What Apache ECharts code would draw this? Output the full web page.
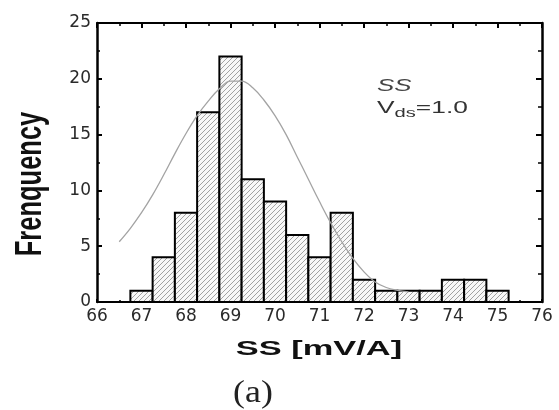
<!DOCTYPE html>
<html>
<head>
<meta charset="utf-8">
<script src="https://cdn.jsdelivr.net/npm/echarts@6/dist/echarts.min.js"></script>
<style>
html,body{margin:0;padding:0;background:#fff;}
#chart{width:559px;height:410px;}
</style>
</head>
<body>
<div id="chart"></div>
<script>
// ---- data ----
var binCenters = [67.0, 67.5, 68.0, 68.5, 69.0, 69.5, 70.0, 70.5, 71.0, 71.5, 72.0, 72.5, 73.0, 73.5, 74.0, 74.5, 75.0];
var binCounts  = [1, 4, 8, 17, 22, 11, 9, 6, 4, 8, 2, 1, 1, 1, 2, 2, 1];
var binWidth = 0.5;
var curveX = [66.5, 66.75, 67.0, 67.25, 67.5, 67.75, 68.0, 68.25, 68.5, 68.75, 69.0, 69.25, 69.5, 69.75, 70.0, 70.25, 70.5, 70.75, 71.0, 71.25, 71.5, 71.75, 72.0, 72.25, 72.5, 72.75, 73.0];
var curveY = [5.4, 6.6, 8.0, 9.6, 11.4, 13.3, 15.1, 16.7, 18.0, 19.1, 19.8, 19.8, 19.2, 18.1, 16.7, 15.0, 13.0, 11.0, 9.0, 7.1, 5.4, 3.9, 2.7, 1.8, 1.3, 1.05, 0.9];
var xTicks = {min: 66, max: 76, step: 1};
var yTicks = {min: 0, max: 25, step: 5};
var xTitle = 'SS [mV/A]';
var yTitle = 'Frenquency';
var noteLine1 = 'SS';
var panelLabel = '(a)';

// ---- hatch pattern ----
var tile = document.createElement('canvas');
tile.width = 5; tile.height = 5;
var g = tile.getContext('2d');
g.fillStyle = '#f8f8f8';
g.fillRect(0, 0, 5, 5);
g.strokeStyle = '#a2a2a2';
g.lineWidth = 1;
g.beginPath();
g.moveTo(-1, 6); g.lineTo(6, -1);
g.moveTo(-1, 1); g.lineTo(1, -1);
g.moveTo(4, 6); g.lineTo(6, 4);
g.stroke();
var hatch = {image: tile, repeat: 'repeat'};

var barData = binCenters.map(function (c, i) { return [c, binCounts[i]]; });
var curveData = curveX.map(function (x, i) { return [x, curveY[i]]; });

var labelFont = {fontFamily: 'DejaVu Sans', fontSize: 17, color: '#2a2a2a'};

function xAxisCfg(pos, showLabel, tickLen, minorLen) {
  return {
    type: 'value', position: pos, min: xTicks.min, max: xTicks.max, interval: xTicks.step,
    axisLine: {show: true, onZero: false, lineStyle: {color: '#000', width: 2}},
    axisTick: {show: true, inside: true, length: tickLen, lineStyle: {color: '#000', width: 2}},
    minorTick: {show: true, splitNumber: 2, length: minorLen, lineStyle: {color: '#000', width: 1.5}},
    splitLine: {show: false},
    axisLabel: Object.assign({show: showLabel, margin: 6}, labelFont)
  };
}
function yAxisCfg(pos, showLabel, tickLen, minorLen) {
  return {
    type: 'value', position: pos, min: yTicks.min, max: yTicks.max, interval: yTicks.step,
    axisLine: {show: true, onZero: false, lineStyle: {color: '#000', width: 2.5}},
    axisTick: {show: true, inside: true, length: tickLen, lineStyle: {color: '#000', width: 2}},
    minorTick: {show: true, splitNumber: 2, length: minorLen, lineStyle: {color: '#000', width: 1.5}},
    splitLine: {show: false},
    axisLabel: Object.assign({show: showLabel, margin: 6}, labelFont)
  };
}

var chart = echarts.init(document.getElementById('chart'), null, {renderer: 'canvas'});
chart.setOption({
  animation: false,
  backgroundColor: '#fff',
  grid: {left: 97, right: 17, top: 23, bottom: 108},
  xAxis: [xAxisCfg('bottom', true, 3, 2), xAxisCfg('top', false, 5, 3)],
  yAxis: [yAxisCfg('left', true, 5, 3), yAxisCfg('right', false, 6, 4)],
  series: [
    {
      type: 'custom',
      xAxisIndex: 0, yAxisIndex: 0,
      z: 2,
      data: barData,
      encode: {x: 0, y: 1},
      renderItem: function (params, api) {
        var c = api.value(0), v = api.value(1);
        var p0 = api.coord([c - binWidth / 2, 0]);
        var p1 = api.coord([c + binWidth / 2, v]);
        return {
          type: 'rect',
          shape: {x: p0[0], y: p1[1], width: p1[0] - p0[0], height: p0[1] - p1[1]},
          style: {fill: hatch, stroke: '#000', lineWidth: 2}
        };
      }
    },
    {
      type: 'line',
      xAxisIndex: 0, yAxisIndex: 0,
      z: 5,
      data: curveData,
      smooth: 0.4,
      symbol: 'none',
      lineStyle: {color: '#a3a3a3', width: 1.3}
    }
  ],
  graphic: [
    {
      type: 'text', x: 31, y: 184, rotation: Math.PI / 2, scaleX: 1.02, scaleY: 1.45,
      style: {text: yTitle, font: 'bold 25px "Liberation Sans", Arial, sans-serif', fill: '#111',
              align: 'center', verticalAlign: 'middle', textAlign: 'center', textVerticalAlign: 'middle'}
    },
    {
      type: 'text', x: 319, y: 349, scaleX: 1.72,
      style: {text: xTitle, font: 'bold 20px "Liberation Sans", Arial, sans-serif', fill: '#111',
              align: 'center', verticalAlign: 'middle', textAlign: 'center', textVerticalAlign: 'middle'}
    },
    {
      type: 'text', x: 253, y: 394, scaleX: 1.12,
      style: {text: panelLabel, font: '32px "Liberation Serif", "Times New Roman", serif', fill: '#222',
              align: 'center', verticalAlign: 'middle', textAlign: 'center', textVerticalAlign: 'middle'}
    },
    {
      type: 'text', x: 377, y: 86, scaleX: 1.52,
      style: {text: noteLine1, font: 'italic 17px "Liberation Sans", Arial, sans-serif', fill: '#444',
              align: 'left', verticalAlign: 'middle', textAlign: 'left', textVerticalAlign: 'middle'}
    },
    {
      type: 'text', x: 377, y: 108, scaleX: 1.55,
      style: {
        text: '{a|V}{b|ds}{a|=1.0}',
        align: 'left', verticalAlign: 'middle', textAlign: 'left', textVerticalAlign: 'middle',
        rich: {
          a: {font: '17px "Liberation Sans", Arial, sans-serif', fill: '#333', color: '#333', lineHeight: 24, verticalAlign: 'middle'},
          b: {font: '13px "Liberation Sans", Arial, sans-serif', fill: '#333', color: '#333', lineHeight: 12, verticalAlign: 'bottom'}
        }
      }
    }
  ]
});
</script>
</body>
</html>
